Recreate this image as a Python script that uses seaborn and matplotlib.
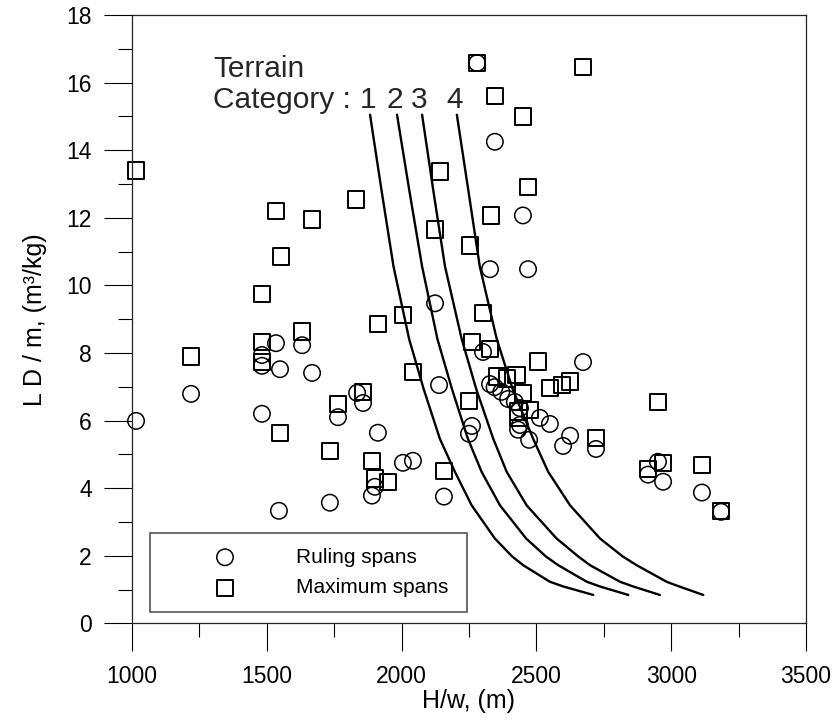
import numpy as np
import pandas as pd
import matplotlib
matplotlib.use("Agg")
import matplotlib.pyplot as plt
import seaborn as sns
from matplotlib.ticker import MultipleLocator

# ---- data ----
ruling_x = [1015, 1219, 1482, 1482, 1482, 1534, 1549, 1545, 1631, 1668,
            1734, 1764, 1835, 1857, 1912, 1890, 1901, 2005, 2042, 2124,
            2139, 2157, 2250, 2261, 2280, 2302, 2328, 2346, 2450, 2469,
            2328, 2345, 2370, 2395, 2420, 2439, 2439, 2473, 2513, 2550,
            2599, 2625, 2673, 2721, 2914, 2951, 2970, 3114, 3185, 2432]
ruling_y = [5.99, 6.79, 7.94, 7.62, 6.20, 8.29, 7.52, 3.33, 8.23, 7.41,
            3.57, 6.10, 6.82, 6.52, 5.64, 3.78, 4.04, 4.75, 4.81, 9.47,
            7.05, 3.75, 5.61, 5.84, 16.58, 8.03, 10.48, 14.25, 12.07, 10.48,
            7.08, 6.99, 6.85, 6.64, 6.55, 6.37, 5.87, 5.43, 6.08, 5.90,
            5.25, 5.55, 7.73, 5.16, 4.40, 4.78, 4.19, 3.87, 3.30, 5.73]

max_x = [1015, 1219, 1482, 1482, 1482, 1534, 1553, 1549, 1631, 1668,
         1734, 1764, 1831, 1857, 1890, 1901, 1912, 1950, 2005, 2042,
         2124, 2142, 2157, 2254, 2250, 2261, 2280, 2302, 2328, 2331,
         2346, 2450, 2469, 2673, 2353, 2390, 2427, 2451, 2476, 2433,
         2433, 2506, 2550, 2594, 2625, 2721, 2914, 2970, 2951, 3114, 3185]
max_y = [13.40, 7.90, 9.74, 8.32, 7.73, 12.20, 10.86, 5.64, 8.64, 11.95,
         5.10, 6.49, 12.54, 6.85, 4.81, 4.28, 8.85, 4.19, 9.12, 7.43,
         11.65, 13.37, 4.51, 11.18, 6.58, 8.32, 16.58, 9.18, 8.11, 12.07,
         15.60, 15.00, 12.92, 16.47, 7.30, 7.25, 7.35, 6.81, 6.32, 6.27,
         6.08, 7.75, 6.96, 7.06, 7.15, 5.49, 4.57, 4.75, 6.55, 4.69, 3.33]

curve_y = [15.05, 12.84, 10.56, 8.41, 6.93, 5.46, 4.48, 3.49, 2.51, 1.98,
           1.72, 1.23, 1.09, 0.84]
cat1_x = [1883, 1925, 1970, 2028, 2082, 2142, 2198, 2260, 2346, 2410,
          2451, 2550, 2600, 2711]
cat2_x = [1983, 2028, 2076, 2133, 2187, 2246, 2297, 2365, 2462, 2535,
          2581, 2687, 2736, 2841]
cat3_x = [2076, 2117, 2161, 2223, 2277, 2340, 2390, 2464, 2575, 2655,
          2699, 2810, 2859, 2958]
cat4_x = [2205, 2247, 2290, 2353, 2412, 2488, 2544, 2625, 2736, 2820,
          2872, 2983, 3030, 3119]
cat_labels = ["1", "2", "3", "4"]

x_ticks = [1000, 1500, 2000, 2500, 3000, 3500]
y_ticks = [0, 2, 4, 6, 8, 10, 12, 14, 16, 18]

# ---- style ----
sns.set_style("ticks")
plt.rcParams["font.family"] = ["Liberation Sans", "DejaVu Sans"]

fig = plt.figure(figsize=(8.36, 7.27), dpi=100)
ax = fig.add_axes([0.1579, 0.1426, 0.8062, 0.8367])

for cx in [cat1_x, cat2_x, cat3_x, cat4_x]:
    sns.lineplot(x=cx, y=curve_y, sort=False, estimator=None, color="black",
                 linewidth=1.7, ax=ax)

sns.scatterplot(x=ruling_x, y=ruling_y, marker="o", s=140, color="black",
                facecolor="none", edgecolor="black", linewidth=1.1,
                label="Ruling spans", ax=ax)
sns.scatterplot(x=max_x, y=max_y, marker="s", s=140, color="black",
                facecolor="none", edgecolor="black", linewidth=1.4,
                label="Maximum spans", ax=ax)
for coll in ax.collections:
    coll.set_facecolor("none")
    coll.set_edgecolor("black")
    coll.set_clip_on(False)

ax.set_xlim(1000, 3500)
ax.set_ylim(0, 18)
ax.set_xticks(x_ticks)
ax.set_yticks(y_ticks)
ax.xaxis.set_minor_locator(MultipleLocator(250))
ax.yaxis.set_minor_locator(MultipleLocator(1))
ax.tick_params(which="major", direction="out", length=20, width=0.8,
               color="black", labelsize=16.5, labelcolor="black")
ax.tick_params(axis="x", which="major", pad=10)
ax.tick_params(axis="y", which="major", pad=9)
ax.tick_params(which="minor", direction="out", length=10, width=0.8, color="black")
for sp in ax.spines.values():
    sp.set_visible(True)
    sp.set_color("#222222")
    sp.set_linewidth(0.9)

ax.set_xlabel("H/w, (m)", fontsize=18, labelpad=1, color="black")
ax.set_ylabel("L D / m, (m³/kg)", fontsize=18, labelpad=14, color="black")

ax.text(1300, 16.17, "Terrain", fontsize=21.5, ha="left", va="baseline")
ax.text(1300, 15.25, "Category :", fontsize=21.5, ha="left", va="baseline")
for lab, cx in zip(cat_labels, [cat1_x, cat2_x, cat3_x, cat4_x]):
    ax.text(cx[0] - 9, 15.25, lab, fontsize=21.5, ha="center", va="baseline")

leg = ax.legend(loc="lower left", bbox_to_anchor=(0.0267, 0.019, 0.47, 0.13),
                mode="expand", borderaxespad=0, handlelength=5.8,
                handletextpad=0.5, borderpad=0.7, labelspacing=0.55,
                fontsize=15, frameon=True, fancybox=False, framealpha=1,
                edgecolor="#555555", scatterpoints=1)
leg.get_frame().set_linewidth(1.2)
for t in leg.get_texts():
    t.set_color("black")

fig.savefig("out.png", dpi=100)
